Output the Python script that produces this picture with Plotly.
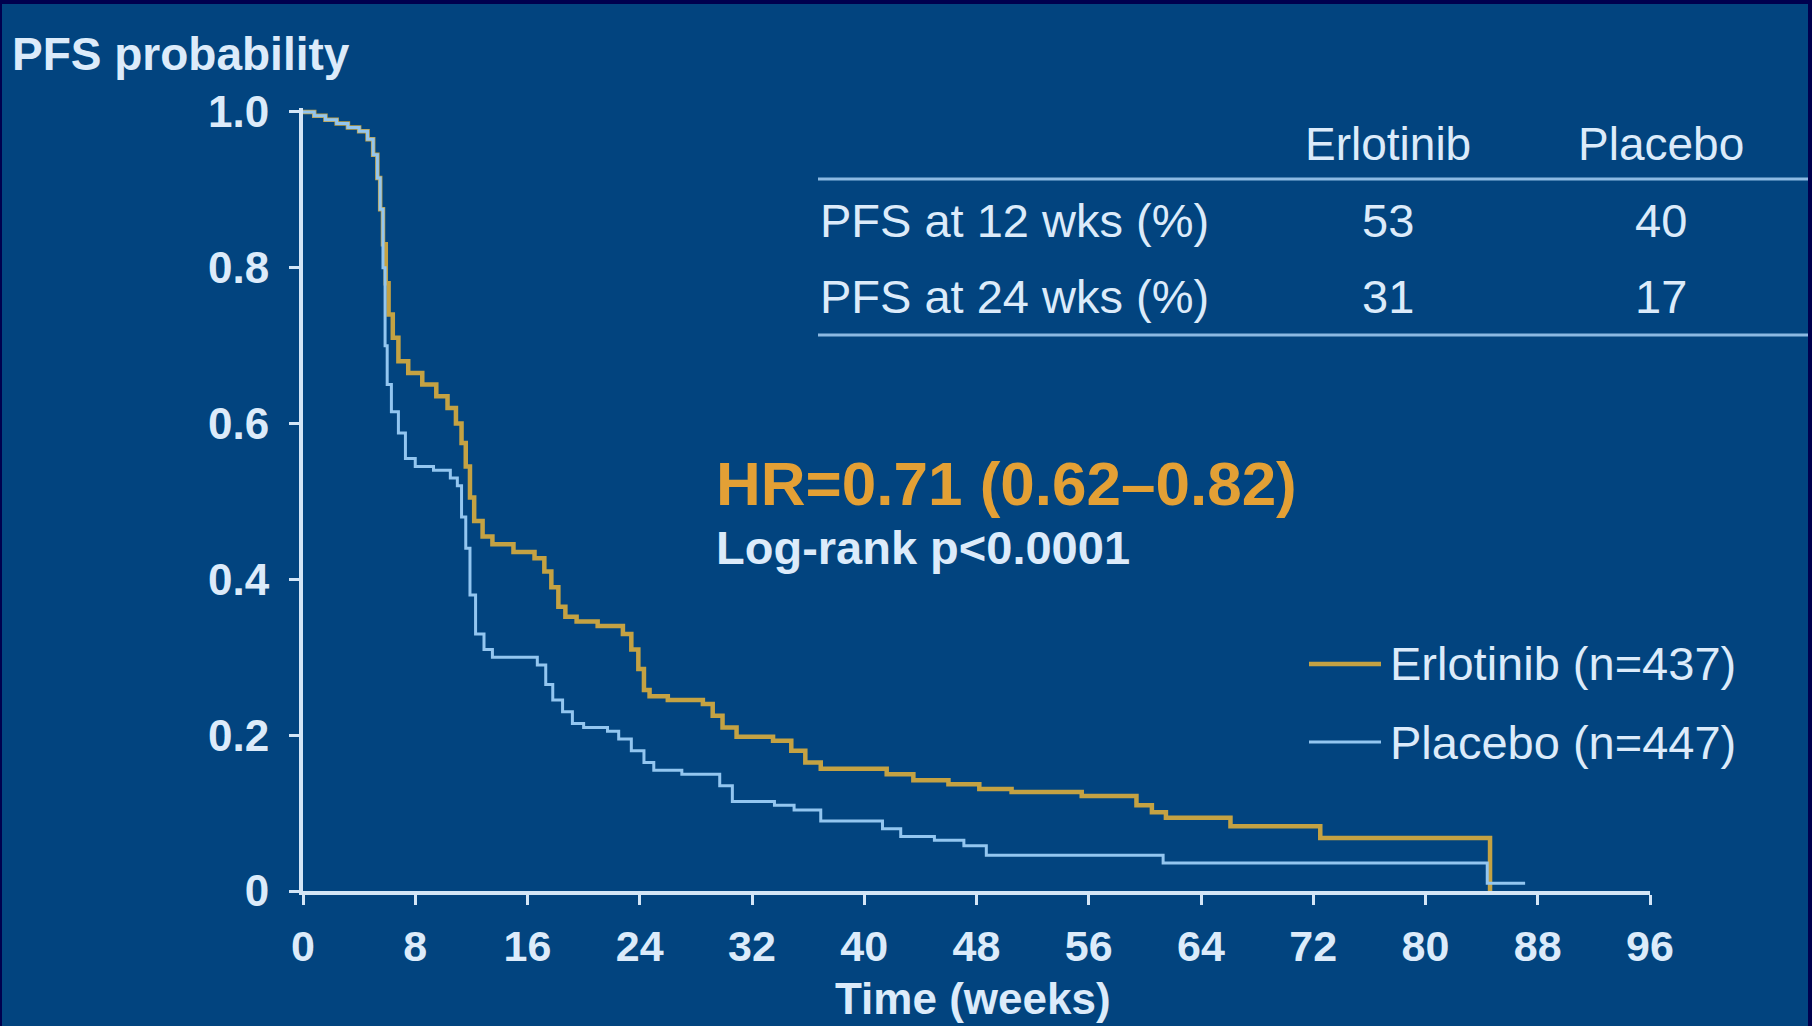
import plotly.graph_objects as go

# ---------------- data ----------------
erl_weeks = [0, 0.8, 1.6, 2.4, 3.2, 4.0, 4.6, 5.0, 5.3, 5.5, 5.7, 5.9, 6.1, 6.4, 6.8,
             7.5, 8.5, 9.5, 10.3, 10.9, 11.3, 11.6, 11.9, 12.2, 12.8, 13.5, 15.0, 16.5,
             17.2, 17.7, 18.2, 18.7, 19.5, 21.0, 22.8, 23.4, 23.9, 24.3, 24.7, 26.0,
             28.5, 29.2, 29.9, 30.9, 33.5, 34.8, 35.8, 36.9, 41.6, 43.5, 46.0, 48.2,
             50.5, 55.5, 59.4, 60.5, 61.5, 66.1, 72.5, 84.6]
erl_surv = [1.0, 0.995, 0.99, 0.985, 0.98, 0.975, 0.965, 0.945, 0.915, 0.875, 0.83, 0.78,
            0.74, 0.71, 0.68, 0.665, 0.65, 0.635, 0.62, 0.60, 0.575, 0.545, 0.505, 0.475,
            0.455, 0.445, 0.435, 0.427, 0.41, 0.39, 0.365, 0.352, 0.346, 0.34, 0.33, 0.31,
            0.285, 0.258, 0.25, 0.245, 0.24, 0.225, 0.21, 0.198, 0.193, 0.18, 0.165, 0.157,
            0.15, 0.142, 0.137, 0.131, 0.127, 0.122, 0.11, 0.101, 0.094, 0.083, 0.068, 0.0]

pla_weeks = [0, 0.8, 1.6, 2.4, 3.2, 4.0, 4.6, 5.0, 5.3, 5.5, 5.7, 5.85, 6.0, 6.3, 6.8,
             7.3, 8.0, 9.3, 10.5, 11.0, 11.3, 11.6, 11.9, 12.3, 12.9, 13.5, 16.7, 17.3,
             17.8, 18.5, 19.2, 20.0, 21.7, 22.5, 23.4, 24.3, 25.0, 27.0, 29.7, 30.6, 33.6,
             35.0, 36.9, 41.3, 42.6, 45.0, 47.1, 48.7, 61.3, 84.4, 87.1]
pla_surv = [1.0, 0.995, 0.99, 0.985, 0.98, 0.975, 0.965, 0.945, 0.915, 0.875, 0.80, 0.70,
            0.65, 0.615, 0.588, 0.555, 0.545, 0.54, 0.53, 0.52, 0.48, 0.44, 0.38, 0.33,
            0.31, 0.30, 0.29, 0.265, 0.245, 0.23, 0.215, 0.21, 0.205, 0.195, 0.18, 0.165,
            0.155, 0.15, 0.135, 0.115, 0.11, 0.104, 0.09, 0.08, 0.07, 0.065, 0.058, 0.046,
            0.036, 0.01, 0.01]

series_names = ["Erlotinib (n=437)", "Placebo (n=447)"]
x_tickvals = [0, 8, 16, 24, 32, 40, 48, 56, 64, 72, 80, 88, 96]
x_ticktext = ["0", "8", "16", "24", "32", "40", "48", "56", "64", "72", "80", "88", "96"]
y_tickvals = [0, 0.2, 0.4, 0.6, 0.8, 1.0]
y_ticktext = ["0", "0.2", "0.4", "0.6", "0.8", "1.0"]

table_header = ["Erlotinib", "Placebo"]
table_rows = ["PFS at 12 wks (%)", "PFS at 24 wks (%)"]
table_erl = ["53", "31"]
table_pla = ["40", "17"]

assert len(erl_weeks) == len(erl_surv)
assert len(pla_weeks) == len(pla_surv)

# ---------------- styling ----------------
W, H = 1812, 1026
L, R, T, B = 303, 162, 108, 135
PW, PH = W - L - R, H - T - B
BG = "#02447f"
FRAME = "#00004e"
GOLD = "#c4a243"
BLUE = "#93c6f0"
AXIS = "#d3e5f6"
TXT = "#dcebfa"
FONT = "Liberation Sans, Arial, sans-serif"


def px(x):
    return (x - L) / PW


def py(y):
    return (H - B - y) / PH


fig = go.Figure()
fig.add_trace(go.Scatter(x=erl_weeks, y=erl_surv, mode="lines", line_shape="hv",
                         line=dict(color=GOLD, width=4.5), name=series_names[0],
                         showlegend=False))
fig.add_trace(go.Scatter(x=pla_weeks, y=pla_surv, mode="lines", line_shape="hv",
                         line=dict(color=BLUE, width=3), name=series_names[1],
                         showlegend=False))

fig.update_layout(
    width=W, height=H,
    margin=dict(l=L, r=R, t=T, b=B, pad=0),
    paper_bgcolor=BG, plot_bgcolor=BG,
    font=dict(family=FONT, color=TXT),
    xaxis=dict(range=[0, 96], tickvals=x_tickvals, ticktext=x_ticktext,
               showgrid=False, zeroline=False, showline=True, linecolor=AXIS,
               linewidth=4, ticks="outside", ticklen=10, tickwidth=3, tickcolor=AXIS,
               tickfont=dict(family=FONT, size=43, color=TXT, weight="bold"),
               ticklabelstandoff=4),
    yaxis=dict(range=[0, 1.005], tickvals=y_tickvals, ticktext=y_ticktext,
               showgrid=False, zeroline=False, showline=True, linecolor=AXIS,
               linewidth=4, ticks="outside", ticklen=10, tickwidth=3, tickcolor=AXIS,
               tickfont=dict(family=FONT, size=44, color=TXT, weight="bold"),
               ticklabelstandoff=11),
)

shapes = []
# frame bands
shapes.append(dict(type="rect", xref="paper", yref="paper", x0=px(0), x1=px(W),
                   y0=py(4), y1=py(0), fillcolor=FRAME, line_width=0, layer="above"))
shapes.append(dict(type="rect", xref="paper", yref="paper", x0=px(0), x1=px(2),
                   y0=py(H), y1=py(0), fillcolor=FRAME, line_width=0, layer="above"))
shapes.append(dict(type="rect", xref="paper", yref="paper", x0=px(W - 4), x1=px(W),
                   y0=py(H), y1=py(0), fillcolor=FRAME, line_width=0, layer="above"))
# table rules
for yy in (179, 335):
    shapes.append(dict(type="line", xref="paper", yref="paper", x0=px(818), x1=px(W - 4),
                       y0=py(yy), y1=py(yy), line=dict(color="#8cb9e2", width=3)))
# legend line samples
shapes.append(dict(type="line", xref="paper", yref="paper", x0=px(1309), x1=px(1381),
                   y0=py(664), y1=py(664), line=dict(color=GOLD, width=4.5)))
shapes.append(dict(type="line", xref="paper", yref="paper", x0=px(1309), x1=px(1381),
                   y0=py(742), y1=py(742), line=dict(color=BLUE, width=3)))

ann = []


def text(x, y, s, size, color=TXT, xanchor="left", bold=False):
    ann.append(dict(xref="paper", yref="paper", x=px(x), y=py(y), text=s,
                    showarrow=False, xanchor=xanchor, yanchor="middle",
                    font=dict(family=FONT, size=size, color=color,
                              weight="bold" if bold else "normal")))


text(10, 54, "PFS probability", 46, bold=True)
text(973, 998, "Time (weeks)", 44, xanchor="center", bold=True)
text(714, 483, "HR=0.71 (0.62\u20130.82)", 62, color="#e3a035", bold=True)
text(714, 547, "Log-rank p<0.0001", 47, bold=True)
text(1388, 664, series_names[0], 47)
text(1388, 742, series_names[1], 47)
# table
text(1388, 144, table_header[0], 46, xanchor="center")
text(1661, 144, table_header[1], 46, xanchor="center")
for i, yy in enumerate((220, 296)):
    text(818, yy, table_rows[i], 47)
    text(1388, yy, table_erl[i], 47, xanchor="center")
    text(1661, yy, table_pla[i], 47, xanchor="center")

fig.update_layout(shapes=shapes, annotations=ann)

fig.write_html("out.html", config={"displayModeBar": False},
               post_script="document.body.style.margin='0';")
